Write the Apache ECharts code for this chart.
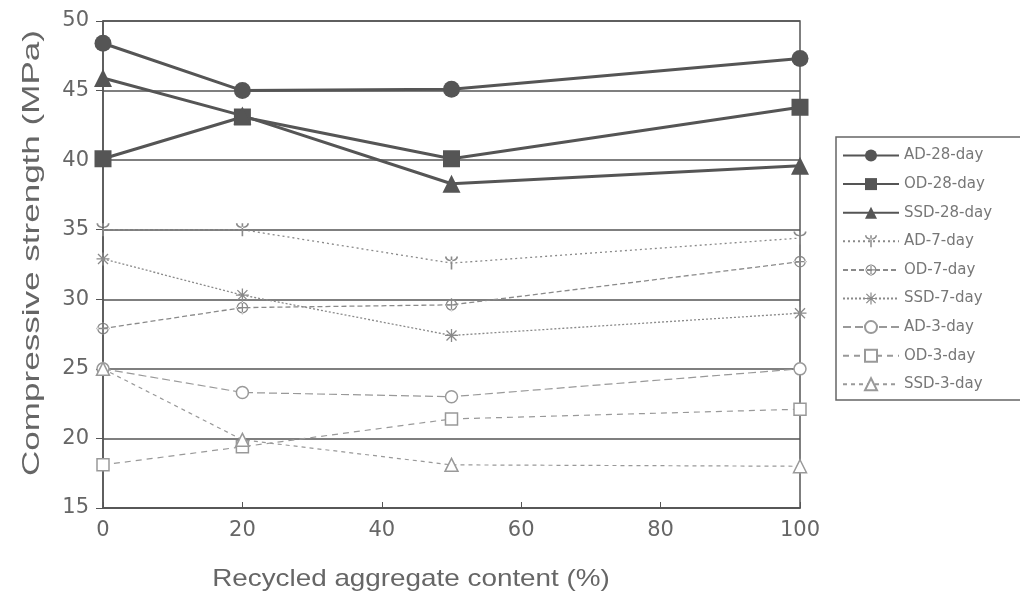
<!DOCTYPE html>
<html><head><meta charset="utf-8">
<script src="https://cdn.jsdelivr.net/npm/echarts@6/dist/echarts.min.js"></script>
<style>html,body{margin:0;padding:0;background:#fff}#c{width:1020px;height:597px}</style>
</head><body><div id="c"></div>
<script>
const xValues = [0, 20, 50, 100];
const xTicks = [0, 20, 40, 60, 80, 100];
const yTicks = [15, 20, 25, 30, 35, 40, 45, 50];
const seriesNames = ['AD-28-day','OD-28-day','SSD-28-day','AD-7-day','OD-7-day','SSD-7-day','AD-3-day','OD-3-day','SSD-3-day'];
const xTitle = 'Recycled aggregate content (%)';
const yTitle = 'Compressive strength (MPa)';
const ad28 = [48.4, 45.0, 45.1, 47.3];
const od28 = [40.1, 43.1, 40.1, 43.8];
const ssd28 = [45.9, 43.2, 38.3, 39.6];
const ad7 = [35.0, 35.0, 32.6, 34.4];
const od7 = [27.9, 29.4, 29.6, 32.7];
const ssd7 = [32.9, 30.3, 27.4, 29.0];
const ad3 = [25.0, 23.3, 23.0, 25.0];
const od3 = [18.1, 19.4, 21.4, 22.1];
const ssd3 = [25.0, 19.9, 18.1, 18.0];

const pts = v => v.map((y, i) => [xValues[i], y]);
const crossCircle = 'path://M50,5A45,45 0 1,0 50.01,5ZM50,15A35,35 0 1,1 49.99,15ZM45,0H55V100H45ZM0,45H100V55H0Z';
const asterisk = 'path://M45,0H55V100H45ZM0,45H100V55H0ZM15,8L92,85L85,92L8,15ZM85,8L92,15L15,92L8,85Z';
const psi = 'path://M45,20H55V100H45ZM10,20C10,60 90,60 90,20H80C80,48 20,48 20,20Z';

function mk(name, data, opt) {
  return {
    name: name, type: 'line', data: pts(data),
    symbol: opt.symbol, symbolSize: opt.size,
    lineStyle: { color: opt.color, width: opt.width, type: opt.dash || 'solid' },
    itemStyle: { color: opt.fill, borderColor: opt.color, borderWidth: opt.bw || 0 },
    z: opt.z || 2
  };
}

const series = [
  mk(seriesNames[0], ad28, { color: '#555', width: 3, fill: '#555', z: 5, symbol: 'circle', size: 17 }),
  mk(seriesNames[1], od28, { color: '#555', width: 3, fill: '#555', z: 5, symbol: 'rect', size: 17 }),
  mk(seriesNames[2], ssd28, { color: '#555', width: 3, fill: '#555', z: 5, symbol: 'triangle', size: 18 }),
  mk(seriesNames[3], ad7, { color: '#8a8a8a', width: 1.3, dash: [2, 3], fill: '#8a8a8a', symbol: psi, size: 13 }),
  mk(seriesNames[4], od7, { color: '#8a8a8a', width: 1.3, dash: [5, 3], fill: '#8a8a8a', symbol: crossCircle, size: 13 }),
  mk(seriesNames[5], ssd7, { color: '#8a8a8a', width: 1.3, dash: [2, 2], fill: '#8a8a8a', symbol: asterisk, size: 13 }),
  mk(seriesNames[6], ad3, { color: '#999', width: 1.2, dash: [8, 4], fill: '#fff', bw: 1.5, symbol: 'circle', size: 12 }),
  mk(seriesNames[7], od3, { color: '#999', width: 1.2, dash: [6, 5], fill: '#fff', bw: 1.5, symbol: 'rect', size: 12 }),
  mk(seriesNames[8], ssd3, { color: '#999', width: 1.2, dash: [4, 4], fill: '#fff', bw: 1.5, symbol: 'triangle', size: 13 })
];

const chart = echarts.init(document.getElementById('c'), null, { renderer: 'canvas' });
chart.setOption({
  backgroundColor: '#fff',
  animation: false,
  textStyle: { fontFamily: 'DejaVu Sans, sans-serif' },
  grid: { left: 103, right: 220, top: 21, bottom: 89, show: true, borderColor: '#555', borderWidth: 1.5, backgroundColor: 'transparent' },
  legend: {
    orient: 'vertical', left: 836, top: 142,
    data: seriesNames,
    itemWidth: 56, itemHeight: 15, itemGap: 13.6,
    padding: [6, 10, 6, 6],
    borderWidth: 0,
    textStyle: { color: '#777', fontSize: 15, fontFamily: 'DejaVu Sans, sans-serif' }
  },
  graphic: [
    { type: 'rect', z: 0, shape: { x: 836, y: 137, width: 300, height: 263 }, style: { fill: 'none', stroke: '#666', lineWidth: 1.5 } },
    { type: 'text', x: 411, y: 579, scaleX: 1.16, style: { text: xTitle, font: '24px "Liberation Sans", Arial, sans-serif', fill: '#666', align: 'center', verticalAlign: 'middle' } },
    { type: 'text', x: 32, y: 253, rotation: Math.PI / 2, scaleX: 1.46, style: { text: yTitle, font: '24px "Liberation Sans", Arial, sans-serif', fill: '#666', align: 'center', verticalAlign: 'middle' } }
  ],
  xAxis: {
    type: 'value', min: xTicks[0], max: xTicks[xTicks.length - 1], interval: 20,
    axisLine: { show: true, lineStyle: { color: '#555', width: 1.5 } },
    axisTick: { show: true, inside: true, length: 6, lineStyle: { color: '#555' } },
    axisLabel: { color: '#666', fontSize: 21, margin: 12, fontFamily: 'DejaVu Sans, sans-serif' },
    splitLine: { show: false }
  },
  yAxis: {
    type: 'value', min: yTicks[0], max: yTicks[yTicks.length - 1], interval: 5,
    axisLine: { show: true, lineStyle: { color: '#555', width: 1.5 } },
    axisTick: { show: true, inside: false, length: 7, lineStyle: { color: '#555' } },
    axisLabel: { color: '#666', fontSize: 21, margin: 14, fontFamily: 'DejaVu Sans, sans-serif' },
    splitLine: { show: true, lineStyle: { color: '#555', width: 1.5 } }
  },
  series: series
});
</script></body></html>
